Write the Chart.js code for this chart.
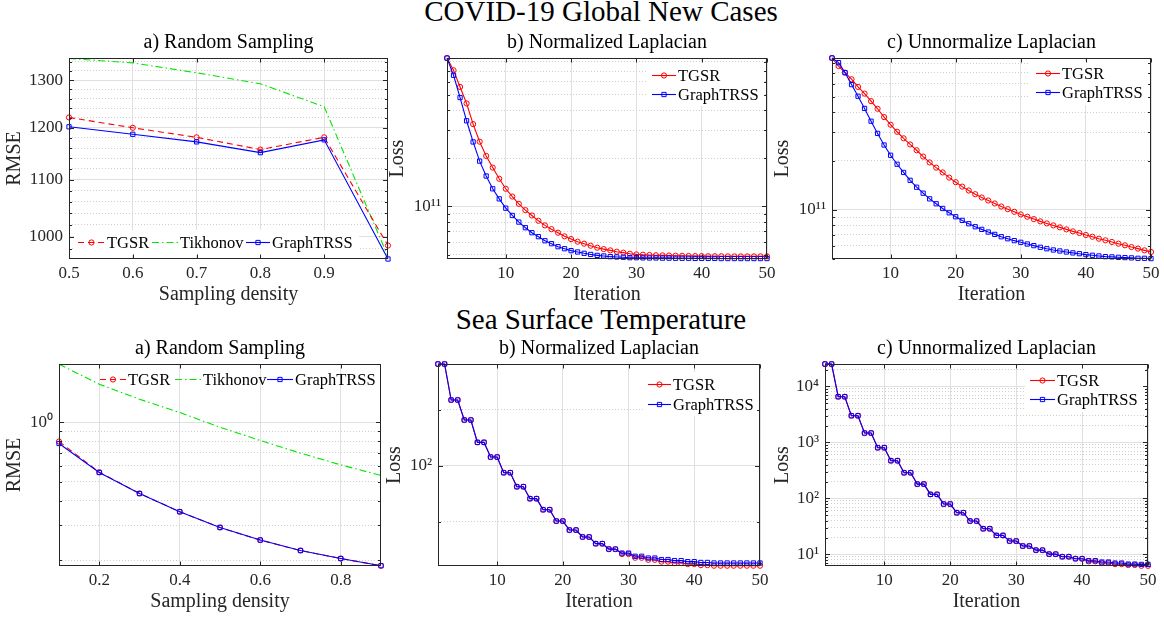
<!DOCTYPE html>
<html>
<head>
<meta charset="utf-8">
<script src="https://cdn.jsdelivr.net/npm/chart.js@4.4.1/dist/chart.umd.min.js"></script>
<style>
  body { margin: 0; width: 1164px; height: 621px; background: #fff; overflow: hidden; position: relative; }
  .sup { position: absolute; left: 19px; width: 1164px; text-align: center; font: 29px/29px "Liberation Serif", serif; color: #000; }
  canvas { position: absolute; }
</style>
</head>
<body>
<div class="sup" style="top:-3px">COVID-19 Global New Cases</div>
<div class="sup" style="top:305px">Sea Surface Temperature</div>
<canvas id="c1"></canvas>
<canvas id="c2"></canvas>
<canvas id="c3"></canvas>
<canvas id="c4"></canvas>
<canvas id="c5"></canvas>
<canvas id="c6"></canvas>
<script>
// ---- data ----
const iterations = [1,2,3,4,5,6,7,8,9,10,11,12,13,14,15,16,17,18,19,20,21,22,23,24,25,
  26,27,28,29,30,31,32,33,34,35,36,37,38,39,40,41,42,43,44,45,46,47,48,49,50];

// COVID-19 a) random sampling
const covidDensity = [0.5, 0.6, 0.7, 0.8, 0.9, 1.0];
const covidTGSR = [1221, 1200, 1181, 1157, 1181, 985];
const covidTikhonov = [1348, 1338, 1316, 1292, 1243, 967];
const covidGraphTRSS = [1202, 1187, 1172, 1151, 1176, 963];

// COVID-19 b) normalized laplacian
const covidNormTGSR = [8.45e11,7.09e11,5.58e11,4.40e11,3.27e11,2.54e11,2.07e11,1.75e11,1.49e11,1.29e11,
  1.154e11,1.039e11,9.49e10,8.79e10,8.14e10,7.62e10,7.22e10,6.86e10,6.51e10,6.26e10,
  6.03e10,5.86e10,5.69e10,5.53e10,5.42e10,5.32e10,5.22e10,5.15e10,5.07e10,5.02e10,
  5.00e10,4.98e10,4.96e10,4.95e10,4.94e10,4.93e10,4.92e10,4.91e10,4.90e10,4.90e10,
  4.89e10,4.89e10,4.89e10,4.88e10,4.88e10,4.88e10,4.88e10,4.88e10,4.88e10,4.88e10];
const covidNormGraphTRSS = [8.45e11,6.60e11,4.79e11,3.43e11,2.53e11,1.92e11,1.55e11,1.29e11,1.116e11,9.76e10,
  8.79e10,7.99e10,7.37e10,6.86e10,6.48e10,6.11e10,5.86e10,5.61e10,5.45e10,5.30e10,
  5.20e10,5.10e10,5.02e10,4.95e10,4.91e10,4.86e10,4.84e10,4.82e10,4.79e10,4.79e10,
  4.78e10,4.77e10,4.77e10,4.76e10,4.76e10,4.75e10,4.75e10,4.75e10,4.74e10,4.74e10,
  4.74e10,4.74e10,4.73e10,4.73e10,4.73e10,4.73e10,4.73e10,4.73e10,4.73e10,4.73e10];

// COVID-19 c) unnormalized laplacian
const covidUnnormTGSR = [8.64e11,7.71e11,7.02e11,6.39e11,5.73e11,5.21e11,4.68e11,4.20e11,3.73e11,3.35e11,
  3.03e11,2.76e11,2.53e11,2.33e11,2.13e11,1.96e11,1.82e11,1.70e11,1.58e11,1.48e11,
  1.39e11,1.315e11,1.248e11,1.191e11,1.141e11,1.094e11,1.048e11,1.009e11,9.72e10,9.36e10,
  9.06e10,8.76e10,8.48e10,8.24e10,8.01e10,7.79e10,7.57e10,7.36e10,7.19e10,6.99e10,
  6.82e10,6.63e10,6.48e10,6.33e10,6.18e10,6.04e10,5.89e10,5.76e10,5.62e10,5.49e10];
const covidUnnormGraphTRSS = [8.64e11,8.09e11,7.02e11,5.92e11,5.02e11,4.22e11,3.52e11,2.96e11,2.51e11,2.17e11,
  1.91e11,1.70e11,1.52e11,1.378e11,1.266e11,1.168e11,1.089e11,1.019e11,9.58e10,9.06e10,
  8.60e10,8.20e10,7.86e10,7.57e10,7.29e10,7.05e10,6.82e10,6.63e10,6.45e10,6.30e10,
  6.15e10,6.01e10,5.87e10,5.75e10,5.65e10,5.57e10,5.49e10,5.42e10,5.36e10,5.29e10,
  5.24e10,5.19e10,5.14e10,5.12e10,5.09e10,5.07e10,5.05e10,5.02e10,5.02e10,5.00e10];

// SST a) random sampling
const sstDensity = [0.1, 0.2, 0.3, 0.4, 0.5, 0.6, 0.7, 0.8, 0.9];
const sstTGSR = [0.798, 0.558, 0.436, 0.352, 0.293, 0.253, 0.224, 0.204, 0.1876];
const sstTikhonov = [1.965, 1.557, 1.307, 1.119, 0.943, 0.808, 0.697, 0.608, 0.537];
const sstGraphTRSS = [0.780, 0.556, 0.435, 0.352, 0.293, 0.253, 0.224, 0.204, 0.1876];

// SST b) normalized laplacian
const sstNormTGSR = [352,352,225.5,225.5,176,176,133.5,133.5,111.3,111.3,
  91.7,91.7,77.1,77.1,66.5,66.5,58.0,58.0,50.4,50.4,
  45.1,45.1,41.4,41.4,38.1,38.1,35.6,35.6,33.5,33.5,
  32.0,32.0,31.2,31.2,30.5,30.5,29.97,29.97,29.6,29.6,
  29.2,29.2,29.0,29.0,29.0,29.0,29.0,29.0,29.0,29.0];
const sstNormGraphTRSS = [352,352,225.5,225.5,176,176,133.5,133.5,111.3,111.3,
  91.7,91.7,77.1,77.1,66.5,66.5,58.0,58.0,50.4,50.4,
  45.1,45.1,41.4,41.4,38.1,38.1,35.6,35.6,33.9,33.9,
  32.6,32.6,31.9,31.9,31.3,31.3,30.9,30.9,30.5,30.5,
  30.2,30.2,30.0,30.0,30.0,30.0,30.0,30.0,30.0,30.0];

// SST c) unnormalized laplacian
const sstUnnormTGSR = [25060,25060,6540,6540,2993,2993,1468,1468,803,803,
  471,471,287,287,180,180,117.9,117.9,79.2,79.2,
  55.4,55.4,39.4,39.4,28.7,28.7,21.8,21.8,17.3,17.3,
  14.1,14.1,11.9,11.9,10.1,10.1,9.08,9.08,8.37,8.37,
  7.5,7.5,7.0,7.0,6.7,6.7,6.45,6.45,6.25,6.25];
const sstUnnormGraphTRSS = [25060,25060,6540,6540,2993,2993,1468,1468,803,803,
  471,471,287,287,180,180,117.9,117.9,79.2,79.2,
  55.4,55.4,39.4,39.4,28.7,28.7,21.8,21.8,17.3,17.3,
  14.1,14.1,11.9,11.9,10.1,10.1,9.08,9.08,8.37,8.37,
  7.71,7.71,7.30,7.30,7.00,7.00,6.71,6.71,6.62,6.62];

// tick values and labels
const covidDensityTicks = [0.5, 0.6, 0.7, 0.8, 0.9];
const covidDensityLabels = ['0.5', '0.6', '0.7', '0.8', '0.9'];
const sstDensityTicks = [0.2, 0.4, 0.6, 0.8];
const sstDensityLabels = ['0.2', '0.4', '0.6', '0.8'];
const iterTicks = [10, 20, 30, 40, 50];
const iterLabels = ['10', '20', '30', '40', '50'];

const covidRmseTicks = [1000, 1100, 1200, 1300];
const covidRmseLabels = ['1000', '1100', '1200', '1300'];
const covidRmseMinor = [980, 1020, 1040, 1060, 1080, 1120, 1140, 1160, 1180, 1220, 1240, 1260, 1280, 1320, 1340];
const covidLossTicks = [1e11];
const covidLossLabels = ['10¹¹'];
const covidLossMinor = [5e10, 6e10, 7e10, 8e10, 9e10, 2e11, 3e11, 4e11, 5e11, 6e11, 7e11, 8e11];
const sstRmseTicks = [1];
const sstRmseLabels = ['10⁰'];
const sstRmseMinor = [0.2, 0.3, 0.4, 0.5, 0.6, 0.7, 0.8, 0.9];
const sstNormTicks = [100];
const sstNormLabels = ['10²'];
const sstNormMinor = [50, 200];
const sstUnnormTicks = [10, 100, 1000, 10000];
const sstUnnormLabels = ['10¹', '10²', '10³', '10⁴'];
const sstUnnormMinor = [7, 8, 9, 20, 30, 40, 50, 60, 70, 80, 90, 200, 300, 400, 500, 600, 700, 800, 900,
  2000, 3000, 4000, 5000, 6000, 7000, 8000, 9000, 20000];

// ---- styling ----
const SERIF = '"Liberation Serif", serif';
const RED = '#ff0000', BLUE = '#0000ff', GREEN = '#00e600';
const GRID = '#e0e0e0', GRID_MINOR = '#cfcfcf', AXIS = '#262626';

function pts(xs, ys) { return xs.map((x, i) => ({ x: x, y: ys[i] })); }

function tgsr(xs, ys, dashed) {
  return { label: 'TGSR', data: pts(xs, ys), borderColor: RED, borderWidth: 1.1, borderDash: dashed ? [6, 4] : [],
    pointStyle: 'circle', pointRadius: 2.6, pointBorderWidth: 1, pointBorderColor: RED,
    pointBackgroundColor: 'rgba(0,0,0,0)', order: 2, clip: false };
}
function graphtrss(xs, ys) {
  return { label: 'GraphTRSS', data: pts(xs, ys), borderColor: BLUE, borderWidth: 1.1,
    pointStyle: 'rect', pointRadius: 3, pointBorderWidth: 1, pointBorderColor: BLUE,
    pointBackgroundColor: 'rgba(0,0,0,0)', order: 1, clip: false };
}
function tikhonov(xs, ys) {
  return { label: 'Tikhonov', data: pts(xs, ys), borderColor: GREEN, borderWidth: 1.1, borderDash: [7, 3, 1.5, 3],
    pointRadius: 0, order: 3, clip: false };
}

// frame, inner ticks and panel title
Chart.register({
  id: 'frame',
  afterDraw(chart, args, o) {
    const ctx = chart.ctx, a = chart.chartArea;
    const l = Math.round(a.left) + 0.5, t = Math.round(a.top) + 0.5;
    const r = Math.round(a.right) - 0.5, b = Math.round(a.bottom) - 0.5;
    ctx.save();
    ctx.strokeStyle = AXIS; ctx.lineWidth = 1;
    ctx.strokeRect(l, t, r - l, b - t);
    const xs = chart.scales.x, ys = chart.scales.y;
    ctx.beginPath();
    xs.ticks.forEach(tk => {
      const p = Math.round(xs.getPixelForValue(tk.value)) + 0.5;
      ctx.moveTo(p, b); ctx.lineTo(p, b - 4); ctx.moveTo(p, t); ctx.lineTo(p, t + 4);
    });
    ys.ticks.forEach(tk => {
      const p = Math.round(ys.getPixelForValue(tk.value)) + 0.5;
      const n = tk.minor ? 2.5 : 4.5;
      ctx.moveTo(l, p); ctx.lineTo(l + n, p); ctx.moveTo(r, p); ctx.lineTo(r - n, p);
    });
    ctx.stroke();
    ctx.fillStyle = '#000';
    ctx.font = '20px ' + SERIF;
    ctx.textAlign = 'center'; ctx.textBaseline = 'middle';
    ctx.fillText(o.title, (a.left + a.right) / 2, a.top - 15);
    ctx.restore();
  }
});

// legend drawn inside the axes
Chart.register({
  id: 'boxLegend',
  afterDatasetsDraw(chart, args, o) {
    if (!o || !o.items) return;
    const ctx = chart.ctx, a = chart.chartArea;
    ctx.save();
    if (o.bg) { ctx.fillStyle = '#fff'; ctx.fillRect(a.left + o.bg[0], a.top + o.bg[1], o.bg[2], o.bg[3]); }
    ctx.font = '16.5px ' + SERIF;
    ctx.textBaseline = 'middle'; ctx.textAlign = 'left';
    o.items.forEach(it => {
      const ds = chart.data.datasets[it.ds];
      const x0 = a.left + it.x, y = Math.round(a.top + it.y) + 0.5;
      ctx.strokeStyle = ds.borderColor; ctx.lineWidth = ds.borderWidth;
      ctx.setLineDash(ds.borderDash || []);
      ctx.beginPath(); ctx.moveTo(x0, y); ctx.lineTo(x0 + it.len, y); ctx.stroke();
      ctx.setLineDash([]);
      const cx = x0 + it.len / 2;
      if (ds.pointRadius > 0) {
        ctx.lineWidth = 1;
        ctx.beginPath();
        if (ds.pointStyle === 'rect') {
          const s = ds.pointRadius * Math.SQRT1_2;
          ctx.rect(cx - s, y - s, 2 * s, 2 * s);
        } else {
          ctx.arc(cx, y, ds.pointRadius, 0, Math.PI * 2);
        }
        ctx.stroke();
      }
      ctx.fillStyle = '#000';
      ctx.fillText(ds.label, x0 + it.len + 2, y + 1);
    });
    ctx.restore();
  }
});

function makePanel(id, box, p) {
  const cv = document.getElementById(id);
  const left = Math.round(box.tx - 12), top = box.T - 30;
  const right = Math.min(box.R + 16, 1164), bottom = box.B + 48;
  cv.width = right - left; cv.height = bottom - top;
  cv.style.left = left + 'px'; cv.style.top = top + 'px';
  const yw = box.L - left;

  const yTicks = p.yTicks.map(v => ({ value: v }))
    .concat(p.yMinor.map(v => ({ value: v, minor: true })))
    .sort((m, n) => m.value - n.value);

  return new Chart(cv, {
    type: 'line',
    data: { datasets: p.datasets },
    options: {
      responsive: false,
      animation: false,
      events: [],
      layout: { padding: { left: 0, top: 30, right: right - box.R, bottom: 0 } },
      plugins: {
        legend: { display: false },
        tooltip: { enabled: false },
        frame: { title: p.title },
        boxLegend: p.legend
      },
      scales: {
        x: {
          type: 'linear', min: p.xMin, max: p.xMax,
          afterBuildTicks(s) { s.ticks = p.xTicks.map(v => ({ value: v })); },
          afterFit(s) { s.height = 48; s.paddingLeft = 0; s.paddingRight = 0; },
          ticks: { autoSkip: false, maxRotation: 0, padding: 4, color: AXIS, font: { family: SERIF, size: 17 },
            callback: v => p.xLabels[p.xTicks.indexOf(v)] },
          grid: { color: GRID, lineWidth: 1, drawTicks: false },
          border: { display: false },
          title: { display: true, text: p.xTitle, color: AXIS, padding: 0, font: { family: SERIF, size: 20 } }
        },
        y: {
          type: 'logarithmic', min: p.yMin, max: p.yMax,
          afterBuildTicks(s) { s.ticks = yTicks; },
          afterFit(s) { s.width = yw; s.paddingTop = 0; s.paddingBottom = 0; },
          ticks: { autoSkip: false, padding: 6, color: AXIS, font: { family: SERIF, size: 17 },
            callback: v => { const i = p.yTicks.indexOf(v); return i < 0 ? '' : p.yLabels[i]; } },
          grid: { color: c => (c.tick && c.tick.minor) ? GRID_MINOR : GRID, lineWidth: 1, drawTicks: false },
          border: { display: false, dash: c => (c.tick && c.tick.minor) ? [1, 2] : [] },
          title: { display: true, text: p.yTitle, color: AXIS, padding: 0, font: { family: SERIF, size: 20 } }
        }
      }
    }
  });
}

// ---- panels ----
makePanel('c1', { L: 69, T: 58, R: 388, B: 259, tx: 15 }, {
  title: 'a) Random Sampling', xTitle: 'Sampling density', yTitle: 'RMSE',
  xMin: 0.5, xMax: 1.0, xTicks: covidDensityTicks, xLabels: covidDensityLabels,
  yMin: 963, yMax: 1349, yTicks: covidRmseTicks, yLabels: covidRmseLabels, yMinor: covidRmseMinor,
  datasets: [tgsr(covidDensity, covidTGSR, true), tikhonov(covidDensity, covidTikhonov), graphtrss(covidDensity, covidGraphTRSS)],
  legend: { bg: [5, 172, 285, 25], items: [
    { ds: 0, x: 9, y: 184, len: 27 }, { ds: 1, x: 83, y: 184, len: 26 }, { ds: 2, x: 177, y: 184, len: 24 }] }
});

makePanel('c2', { L: 447, T: 58, R: 767, B: 259, tx: 398 }, {
  title: 'b) Normalized Laplacian', xTitle: 'Iteration', yTitle: 'Loss',
  xMin: 1, xMax: 50, xTicks: iterTicks, xLabels: iterLabels,
  yMin: 4.7e10, yMax: 8.46e11, yTicks: covidLossTicks, yLabels: covidLossLabels, yMinor: covidLossMinor,
  datasets: [tgsr(iterations, covidNormTGSR, false), graphtrss(iterations, covidNormGraphTRSS)],
  legend: { bg: [200, 4, 118, 44], items: [
    { ds: 0, x: 205, y: 17, len: 24 }, { ds: 1, x: 205, y: 36, len: 24 }] }
});

makePanel('c3', { L: 832, T: 58, R: 1151, B: 259, tx: 783 }, {
  title: 'c) Unnormalize Laplacian', xTitle: 'Iteration', yTitle: 'Loss',
  xMin: 1, xMax: 50, xTicks: iterTicks, xLabels: iterLabels,
  yMin: 4.97e10, yMax: 8.64e11, yTicks: covidLossTicks, yLabels: covidLossLabels, yMinor: covidLossMinor,
  datasets: [tgsr(iterations, covidUnnormTGSR, false), graphtrss(iterations, covidUnnormGraphTRSS)],
  legend: { bg: [198, 3, 118, 44], items: [
    { ds: 0, x: 204, y: 15, len: 24 }, { ds: 1, x: 204, y: 34, len: 24 }] }
});

makePanel('c4', { L: 59, T: 364, R: 381, B: 566, tx: 15 }, {
  title: 'a) Random Sampling', xTitle: 'Sampling density', yTitle: 'RMSE',
  xMin: 0.1, xMax: 0.9, xTicks: sstDensityTicks, xLabels: sstDensityLabels,
  yMin: 0.187, yMax: 1.97, yTicks: sstRmseTicks, yLabels: sstRmseLabels, yMinor: sstRmseMinor,
  datasets: [tgsr(sstDensity, sstTGSR, true), tikhonov(sstDensity, sstTikhonov), graphtrss(sstDensity, sstGraphTRSS)],
  legend: { items: [
    { ds: 0, x: 41, y: 15, len: 26 }, { ds: 1, x: 116, y: 15, len: 26 }, { ds: 2, x: 208, y: 15, len: 26 }] }
});

makePanel('c5', { L: 438, T: 364, R: 760, B: 566, tx: 395 }, {
  title: 'b) Normalized Laplacian', xTitle: 'Iteration', yTitle: 'Loss',
  xMin: 1, xMax: 50, xTicks: iterTicks, xLabels: iterLabels,
  yMin: 28.9, yMax: 352, yTicks: sstNormTicks, yLabels: sstNormLabels, yMinor: sstNormMinor,
  datasets: [tgsr(iterations, sstNormTGSR, false), graphtrss(iterations, sstNormGraphTRSS)],
  legend: { bg: [205, 8, 115, 44], items: [
    { ds: 0, x: 210, y: 20, len: 23 }, { ds: 1, x: 210, y: 40, len: 23 }] }
});

makePanel('c6', { L: 825, T: 364, R: 1148, B: 566, tx: 783 }, {
  title: 'c) Unnormalized Laplacian', xTitle: 'Iteration', yTitle: 'Loss',
  xMin: 1, xMax: 50, xTicks: iterTicks, xLabels: iterLabels,
  yMin: 6.2, yMax: 25100, yTicks: sstUnnormTicks, yLabels: sstUnnormLabels, yMinor: sstUnnormMinor,
  datasets: [tgsr(iterations, sstUnnormTGSR, false), graphtrss(iterations, sstUnnormGraphTRSS)],
  legend: { bg: [200, 4, 121, 44], items: [
    { ds: 0, x: 205, y: 16, len: 25 }, { ds: 1, x: 205, y: 35, len: 25 }] }
});
</script>
</body>
</html>
